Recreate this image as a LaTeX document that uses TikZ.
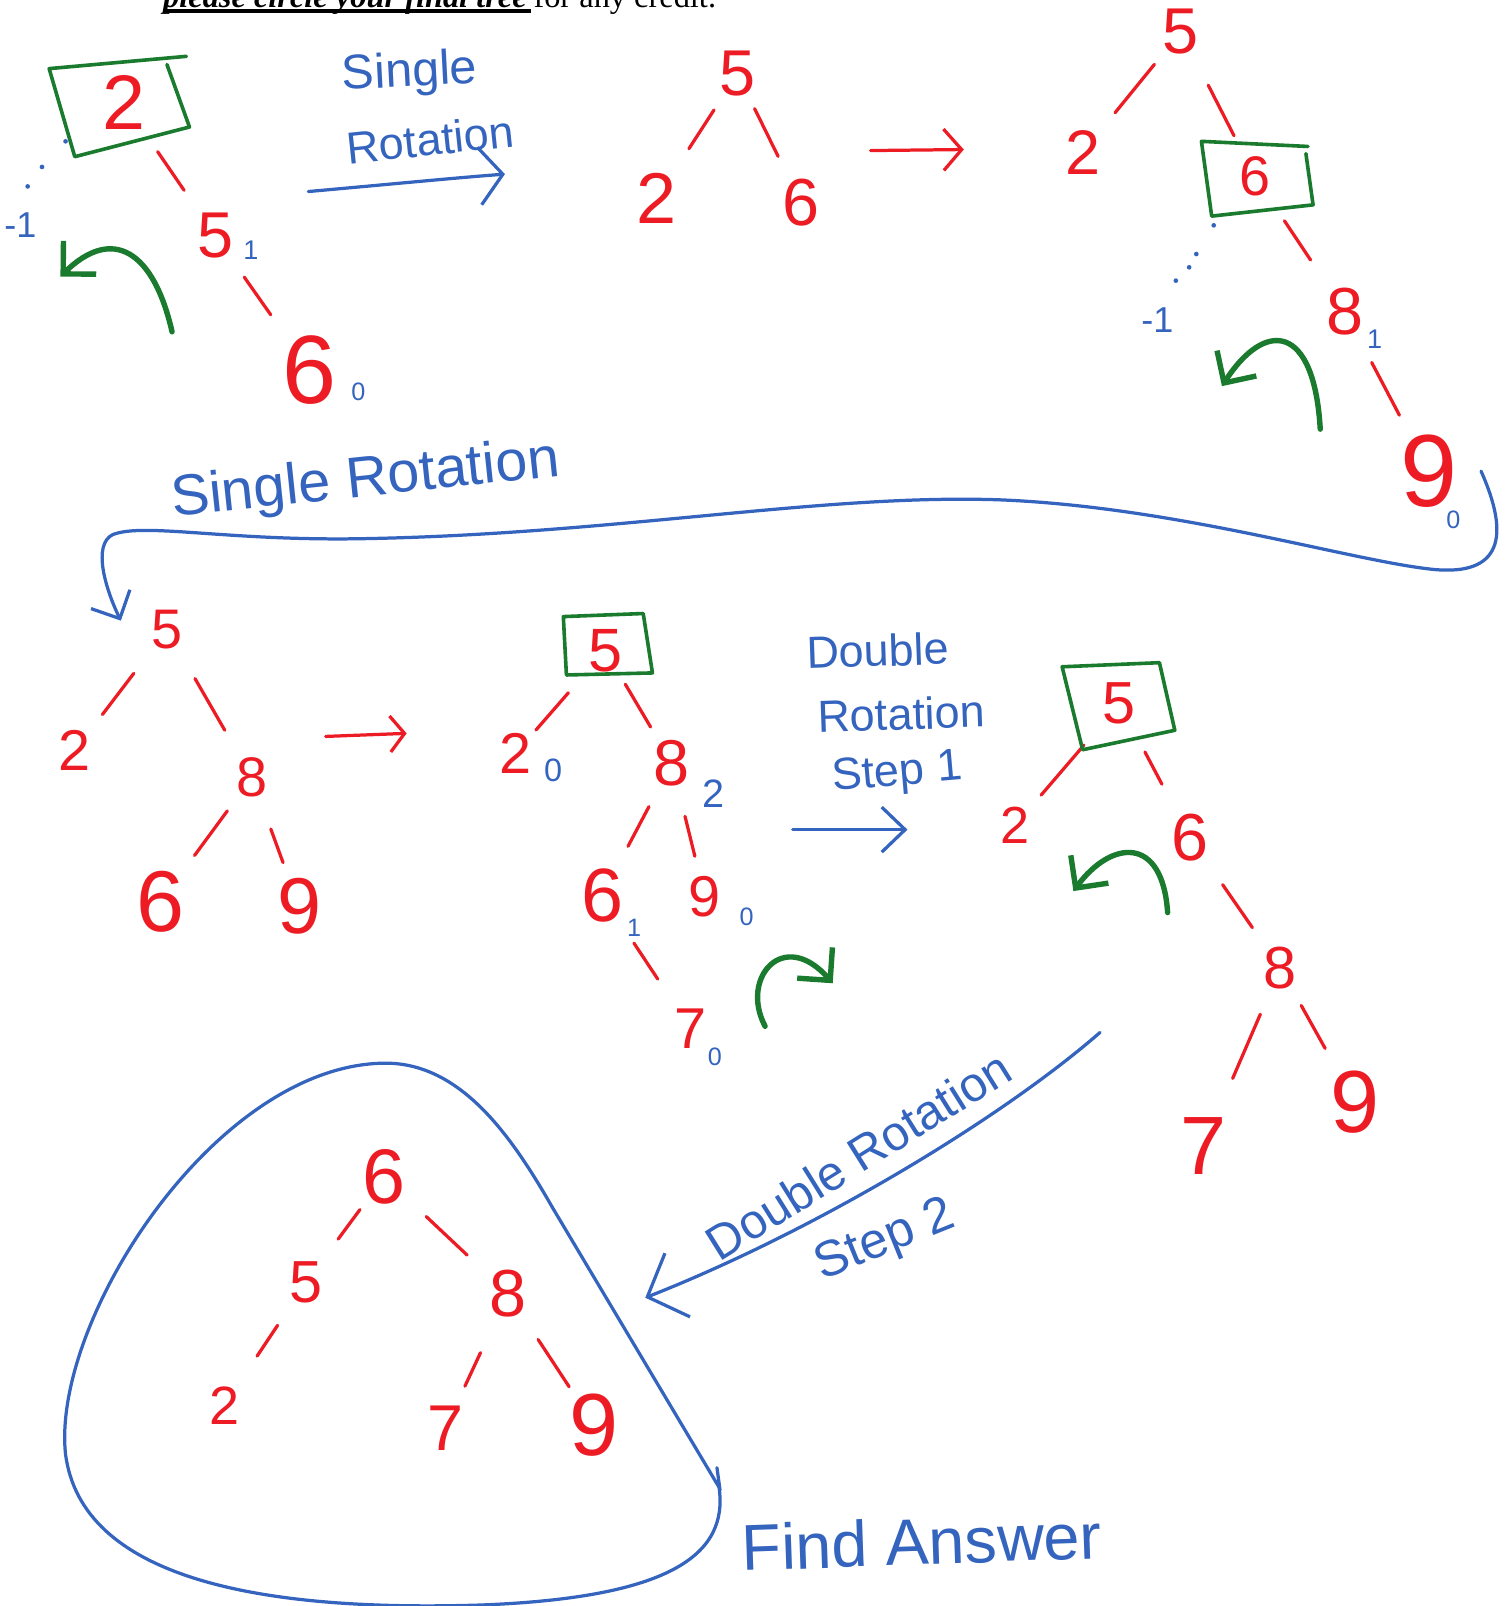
\documentclass[tikz,border=0pt]{standalone}
\usepackage{fontspec}
\setmainfont{Liberation Serif}
\newfontfamily\handfont{Liberation Sans}
\usetikzlibrary{arrows.meta,calc}
\definecolor{inkred}{RGB}{237,28,36}
\definecolor{inkblue}{RGB}{52,100,190}
\definecolor{inkgreen}{RGB}{26,122,46}
\tikzset{
  num/.style={text=inkred, inner sep=0pt, font=\handfont\fontsize{#1}{#1}\selectfont},
  num/.default=36,
  bal/.style={text=inkblue, inner sep=0pt, font=\handfont\fontsize{#1}{#1}\selectfont},
  bal/.default=16,
  note/.style={text=inkblue, inner sep=0pt, font=\handfont\fontsize{#1}{#1}\selectfont},
  note/.default=26,
  link/.style={draw=inkred, line width=1.8pt, line cap=round},
  gbox/.style={draw=inkgreen, line width=2pt, line join=round, line cap=round},
  spin/.style={draw=inkgreen, line width=3pt, line cap=round, -{Straight Barb[length=13pt,width=26pt]}},
  hop/.style={draw=inkblue, line width=1.8pt, line cap=round},
  redhop/.style={draw=inkred, line width=1.8pt, line cap=round}
}
\begin{document}
\begin{tikzpicture}[x=0.02cm, y=-0.02cm]
\useasboundingbox (0,0) rectangle (1476,1568);
\clip (0,0) rectangle (1476,1568);

% header, cut off at the top
\node[anchor=base west, inner sep=0pt, font=\fontsize{18}{18}\selectfont\bfseries\itshape] (hdra) at (159,7) {please circle your final tree};
\node[anchor=base west, inner sep=0pt, font=\fontsize{18}{18}\selectfont] (hdrb) at ($(hdra.base east)+(6,0)$) {for any credit.};
\fill ($(hdra.base west)+(0,2)$) rectangle ($(hdra.base east)+(4,6)$);

% tree 1
\node[num=43] (ta2) at (121,100) {2};
\node[num=36] (ta5) at (210,230) {5};
\node[num=54] (ta6) at (302,361) {6};
\draw[link] ($(ta2)!.37!(ta5)$) -- ($(ta2)!.66!(ta5)$);
\draw[link] ($(ta5)!.31!(ta6)$) -- ($(ta5)!.59!(ta6)$);
\node[bal=15] (ta5b) at (245,244) {1};
\node[bal=14] (ta6b) at (350,383) {0};
\node[bal=20] (ta2b) at (20,220) {-1};
\fill[inkblue] (64,138) circle (1.3pt) (41,163) circle (1.3pt) (27,182) circle (1.3pt);
\draw[gbox] (182,55) -- (48,67) -- (73,153) -- (185,124) -- (163,63);
\draw[spin] (168,324) .. controls (150,245) and (110,220) .. (59,270);

% single rotation
\node[note=27, rotate=3] (sra1) at (400,72) {Single};
\node[note=25, rotate=6] (sra2) at (420,136) {Rotation};
\coordinate (sraa) at (301,187);
\coordinate (srab) at (493,170);
\draw[hop, -{Straight Barb[length=13pt,width=32pt]}] (sraa) .. controls (380,180) and (440,174) .. (srab);

% tree 2
\node[num=36] (tb5) at (720,72) {5};
\node[num=40] (tb2) at (641,194) {2};
\node[num=37] (tb6) at (782,198) {6};
\draw[link] ($(tb5)!.29!(tb2)$) -- ($(tb5)!.60!(tb2)$);
\draw[link] ($(tb5)!.27!(tb6)$) -- ($(tb5)!.64!(tb6)$);
\coordinate (bca) at (850,147);
\coordinate (bcb) at (941,146);
\draw[redhop, -{Straight Barb[length=10pt,width=23pt]}] (bca) -- (bcb);

% tree 3
\node[num=36] (tc5) at (1153,31) {5};
\node[num=35] (tc2) at (1057,149) {2};
\node[num=31] (tc6) at (1225,172) {6};
\node[num=37] (tc8) at (1313,304) {8};
\node[num=57] (tc9) at (1395,460) {9};
\draw[link] ($(tc5)!.27!(tc2)$) -- ($(tc5)!.67!(tc2)$);
\draw[link] ($(tc5)!.37!(tc6)$) -- ($(tc5)!.72!(tc6)$);
\draw[link] ($(tc6)!.33!(tc8)$) -- ($(tc6)!.62!(tc8)$);
\draw[link] ($(tc8)!.32!(tc9)$) -- ($(tc8)!.65!(tc9)$);
\node[bal=15] (tc8b) at (1342,331) {1};
\node[bal=14] (tc9b) at (1419,508) {0};
\node[bal=20] (tc6b) at (1130,313) {-1};
\fill[inkblue] (1185,220) circle (1.3pt) (1168,248) circle (1.3pt) (1161,261) circle (1.3pt) (1148,274) circle (1.3pt);
\draw[gbox] (1277,143) -- (1173,138) -- (1183,211) -- (1282,200) -- (1275,150);
\draw[spin] (1289,419) .. controls (1283,315) and (1235,312) .. (1193,377);

% long arrow down to tree 4
\coordinate (sba) at (1446,460);
\coordinate (sbb) at (118,606);
\draw[hop, -{Straight Barb[length=12pt,width=24pt]}] (sba) .. controls (1475,525) and (1465,562) .. (1400,556)
  .. controls (1320,548) and (1150,495) .. (976,488)
  .. controls (800,482) and (600,522) .. (350,526)
  .. controls (220,528) and (140,510) .. (110,522)
  .. controls (90,532) and (103,575) .. (sbb);
\node[note=32, rotate=6] (srb) at (357,470) {Single Rotation};

% tree 4
\node[num=31] (td5) at (163,615) {5};
\node[num=32] (td2) at (73,733) {2};
\node[num=31] (td8) at (246,759) {8};
\node[num=48] (td6) at (157,880) {6};
\node[num=44] (td9) at (292,885) {9};
\draw[link] ($(td5)!.36!(td2)$) -- ($(td5)!.70!(td2)$);
\draw[link] ($(td5)!.33!(td8)$) -- ($(td5)!.68!(td8)$);
\draw[link] ($(td8)!.27!(td6)$) -- ($(td8)!.63!(td6)$);
\draw[link] ($(td8)!.40!(td9)$) -- ($(td8)!.66!(td9)$);
\coordinate (dea) at (318,719);
\coordinate (deb) at (397,716);
\draw[redhop, -{Straight Barb[length=8pt,width=20pt]}] (dea) -- (deb);

% tree 5
\node[num=34] (te5) at (591,635) {5};
\node[num=32] (te2) at (503,736) {2};
\node[num=36] (te8) at (656,745) {8};
\node[num=42] (te6) at (588,874) {6};
\node[num=32] (te9) at (688,875) {9};
\node[num=32] (te7) at (674,1004) {7};
\draw[link] ($(te5)!.41!(te2)$) -- ($(te5)!.77!(te2)$);
\draw[link] ($(te5)!.30!(te8)$) -- ($(te5)!.68!(te8)$);
\draw[link] ($(te8)!.33!(te6)$) -- ($(te8)!.63!(te6)$);
\draw[link] ($(te8)!.40!(te9)$) -- ($(te8)!.70!(te9)$);
\draw[link] ($(te6)!.36!(te7)$) -- ($(te6)!.63!(te7)$);
\node[bal=18] (te2b) at (540,752) {0};
\node[bal=22] (te8b) at (697,775) {2};
\node[bal=14] (te6b) at (619,906) {1};
\node[bal=14] (te9b) at (729,895) {0};
\node[bal=14] (te7b) at (698,1032) {0};
\draw[gbox] (550,602) -- (628,599) -- (637,657) -- (553,659) -- cycle;
\draw[spin] (747,1002) .. controls (722,955) and (765,905) .. (813,960);

% double rotation, step 1
\node[note=25, rotate=2] (dr1) at (857,635) {Double};
\node[note=25, rotate=2] (dr2) at (880,697) {Rotation};
\node[note=25, rotate=5] (dr3) at (876,756) {Step 1};
\coordinate (efa) at (774,810);
\coordinate (efb) at (886,810);
\draw[hop, -{Straight Barb[length=13pt,width=25pt]}] (efa) -- (efb);

% tree 6
\node[num=33] (tf5) at (1093,687) {5};
\node[num=29] (tf2) at (991,806) {2};
\node[num=37] (tf6) at (1162,818) {6};
\node[num=33] (tf8) at (1250,945) {8};
\node[num=46] (tf7) at (1175,1119) {7};
\node[num=49] (tf9) at (1323,1076) {9};
\draw[link] ($(tf5)!.34!(tf2)$) -- ($(tf5)!.75!(tf2)$);
\draw[link] ($(tf5)!.36!(tf6)$) -- ($(tf5)!.60!(tf6)$);
\draw[link] ($(tf6)!.36!(tf8)$) -- ($(tf6)!.69!(tf8)$);
\draw[link] ($(tf8)!.26!(tf7)$) -- ($(tf8)!.62!(tf7)$);
\draw[link] ($(tf8)!.28!(tf9)$) -- ($(tf8)!.60!(tf9)$);
\draw[gbox] (1037,651) -- (1132,647) -- (1147,713) -- (1057,732) -- cycle;
\draw[spin] (1140,891) .. controls (1135,815) and (1085,820) .. (1048,870);

% double rotation, step 2
\coordinate (fga) at (1074,1008);
\coordinate (fgb) at (630,1267);
\draw[hop, -{Straight Barb[length=18pt,width=38pt]}] (fga) .. controls (980,1090) and (800,1200) .. (fgb);
\node[note=27, rotate=32] (dr4) at (838,1128) {Double Rotation};
\node[note=28, rotate=22] (dr5) at (864,1212) {Step 2};

% final tree
\node[num=43] (tg6) at (375,1149) {6};
\node[num=33] (tg5) at (299,1252) {5};
\node[num=37] (tg8) at (496,1263) {8};
\node[num=30] (tg2) at (219,1372) {2};
\node[num=36] (tg7) at (435,1394) {7};
\node[num=49] (tg9) at (580,1391) {9};
\draw[link] ($(tg6)!.31!(tg5)$) -- ($(tg6)!.59!(tg5)$);
\draw[link] ($(tg6)!.34!(tg8)$) -- ($(tg6)!.67!(tg8)$);
\draw[link] ($(tg5)!.35!(tg2)$) -- ($(tg5)!.60!(tg2)$);
\draw[link] ($(tg8)!.44!(tg7)$) -- ($(tg8)!.69!(tg7)$);
\draw[link] ($(tg8)!.35!(tg9)$) -- ($(tg8)!.71!(tg9)$);
\draw[hop] (702,1452) .. controls (712,1520) and (650,1560) .. (470,1567)
  .. controls (250,1574) and (80,1540) .. (64,1420)
  .. controls (50,1290) and (210,1040) .. (375,1038)
  .. controls (450,1037) and (500,1110) .. (540,1180) -- (702,1452);
\draw[hop] (700,1433) -- (703,1455);
\node[note=36, rotate=2] (fans) at (900,1505) {Find Answer};
\end{tikzpicture}
\end{document}
